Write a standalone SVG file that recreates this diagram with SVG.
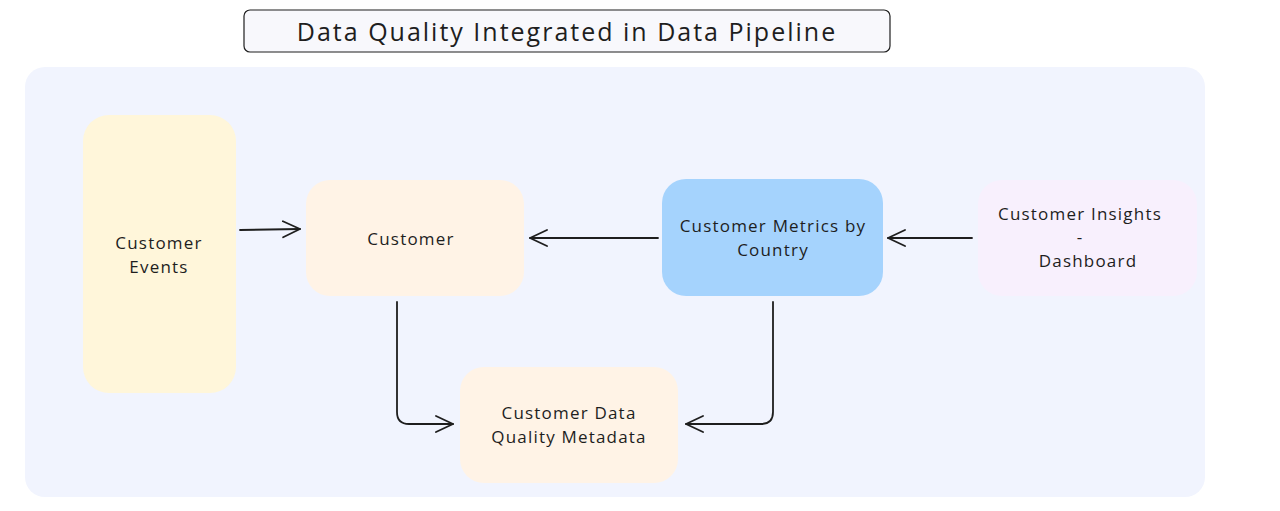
<svg xmlns="http://www.w3.org/2000/svg" width="1280" height="511" viewBox="0 0 1280 511">
<defs>
<marker id="ah" viewBox="0 0 20 20" refX="19" refY="10" markerWidth="20" markerHeight="20" markerUnits="userSpaceOnUse" orient="auto">
<path d="M2,2 L19,10 L2,18" fill="none" stroke="#1e1e1e" stroke-width="1.8" stroke-linecap="round" stroke-linejoin="round"/>
</marker>
</defs>
<style>
text{font-family:"Open Sans","Liberation Sans",sans-serif;fill:#1e1e1e;text-anchor:middle;dominant-baseline:central}
.lbl{font-size:17px;letter-spacing:1.2px}
.conn{fill:none;stroke:#1e1e1e;stroke-width:1.8;stroke-linecap:round;marker-end:url(#ah)}
</style>
<rect width="1280" height="511" fill="#ffffff"/>
<rect x="25" y="67" width="1180" height="430" rx="20" fill="#f1f4fe"/>
<g id="title">
<rect x="244" y="10" width="646" height="42" rx="6" fill="#f8f8fc" stroke="#1e1e1e" stroke-width="1.2"/>
<text x="567" y="31" font-size="25" letter-spacing="2">Data Quality Integrated in Data Pipeline</text>
</g>
<g id="customer-events">
<rect x="83" y="115" width="153" height="278" rx="26" fill="#fff6da"/>
<text class="lbl" x="159" y="242">Customer</text>
<text class="lbl" x="159" y="266">Events</text>
</g>
<g id="customer">
<rect x="306" y="180" width="218" height="116" rx="24" fill="#fff3e6"/>
<text class="lbl" x="411" y="238">Customer</text>
</g>
<g id="customer-metrics">
<rect x="662" y="179" width="221" height="117" rx="24" fill="#a5d3fd"/>
<text class="lbl" x="773" y="225">Customer Metrics by</text>
<text class="lbl" x="773" y="249">Country</text>
</g>
<g id="customer-insights">
<rect x="978" y="180" width="219" height="116" rx="24" fill="#f8f0fd"/>
<text class="lbl" x="1080" y="213">Customer Insights</text>
<text class="lbl" x="1080" y="236">-</text>
<text class="lbl" x="1088" y="260">Dashboard</text>
</g>
<g id="dq-metadata">
<rect x="460" y="367" width="218" height="116" rx="24" fill="#fff3e6"/>
<text class="lbl" x="569" y="412">Customer Data</text>
<text class="lbl" x="569" y="436">Quality Metadata</text>
</g>
<g id="connectors">
<path class="conn" d="M240,230 L300,229"/>
<path class="conn" d="M658,238 L530,238"/>
<path class="conn" d="M972,238 L888,238"/>
<path class="conn" d="M397,302 L397,412 Q397,424 409,424 L453,424"/>
<path class="conn" d="M773,302 L773,412 Q773,424 761,424 L686,424"/>
</g>
</svg>
